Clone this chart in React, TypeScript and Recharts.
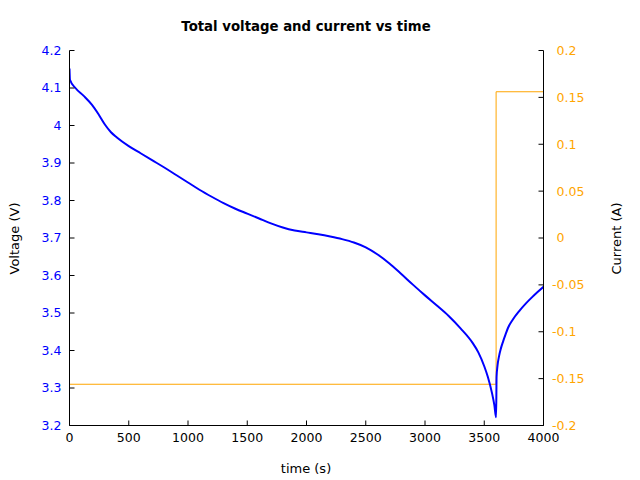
import React from 'react';
import { ComposedChart, Line, XAxis, YAxis } from 'recharts';

const timeV = [0, 4, 50, 120, 190, 245, 300, 350, 400, 500, 600, 700, 800, 900, 1000, 1100, 1200, 1300, 1400, 1500, 1600, 1700, 1800, 1900, 2000, 2100, 2200, 2300, 2400, 2500, 2600, 2700, 2800, 2900, 3000, 3100, 3200, 3300, 3400, 3450, 3500, 3530, 3565, 3585, 3600, 3604, 3612, 3625, 3640, 3660, 3680, 3700, 3740, 3800, 3850, 3900, 3950, 4000];
const voltage = [4.152, 4.122, 4.1, 4.079, 4.055, 4.03, 4.002, 3.982, 3.968, 3.945, 3.926, 3.907, 3.888, 3.868, 3.848, 3.828, 3.81, 3.793, 3.778, 3.765, 3.752, 3.739, 3.728, 3.72, 3.715, 3.71, 3.704, 3.697, 3.688, 3.675, 3.656, 3.632, 3.604, 3.575, 3.547, 3.52, 3.492, 3.459, 3.421, 3.395, 3.358, 3.33, 3.287, 3.255, 3.222, 3.33, 3.36, 3.385, 3.405, 3.425, 3.443, 3.46, 3.482, 3.507, 3.525, 3.541, 3.556, 3.57];

const timeI = [0, 3600, 3600, 4000];
const current = [-0.156, -0.156, 0.156, 0.156];

const xTicks = [0, 500, 1000, 1500, 2000, 2500, 3000, 3500, 4000];
const vTicks = [3.2, 3.3, 3.4, 3.5, 3.6, 3.7, 3.8, 3.9, 4, 4.1, 4.2];
const iTicks = [-0.2, -0.15, -0.1, -0.05, 0, 0.05, 0.1, 0.15, 0.2];

const title = 'Total voltage and current vs time';
const xLabel = 'time (s)';
const yLabel = 'Voltage (V)';
const y2Label = 'Current (A)';

const vData = timeV.map((t, k) => ({ t, v: voltage[k] }));
const iData = timeI.map((t, k) => ({ t, i: current[k] }));

const BLUE = '#0000ff';
const ORANGE = '#ffa500';
const FONT = 'DejaVu Sans';
const TICK_FS = 12.5;

const RightTick = (props: any) => {
  const { x, y, payload } = props;
  const val = payload.value as number;
  return (
    <text x={x - (val < 0 ? 4.5 : 0)} y={y} dy="0.355em" textAnchor="start" fill={ORANGE} fontSize={TICK_FS} fontFamily={FONT}>
      {String(val)}
    </text>
  );
};

const EmptyTick = () => <g />;

export default function App() {
  return (
    <div style={{ position: 'absolute', left: 0, top: 0, width: 640, height: 480, background: '#fff' }}>
      <ComposedChart
        width={640}
        height={480}
        margin={{ top: 50.5, right: 0, bottom: 24.5, left: 0.5 }}
        style={{ fontFamily: FONT }}
      >
        <XAxis
          xAxisId={0}
          dataKey="t"
          type="number"
          domain={[0, 4000]}
          ticks={xTicks}
          allowDataOverflow
          height={30}
          stroke="#000"
          tickSize={-5}
          tickMargin={13}
          tick={{ fill: '#000', fontSize: TICK_FS, fontFamily: FONT }}
        />
        <XAxis
          xAxisId="top"
          orientation="top"
          dataKey="t"
          type="number"
          domain={[0, 4000]}
          ticks={xTicks}
          allowDataOverflow
          height={0}
          stroke="#000"
          tickSize={-5}
          tick={EmptyTick}
        />
        <YAxis
          yAxisId="v"
          orientation="left"
          type="number"
          domain={[3.2, 4.2]}
          ticks={vTicks}
          allowDataOverflow
          width={69}
          stroke="#000"
          tickSize={-5}
          tickMargin={13}
          tick={{ fill: BLUE, fontSize: TICK_FS, fontFamily: FONT }}
        />
        <YAxis
          yAxisId="i"
          orientation="right"
          type="number"
          domain={[-0.2, 0.2]}
          ticks={iTicks}
          allowDataOverflow
          width={96.5}
          stroke="#000"
          tickSize={-5}
          tickMargin={18}
          tick={RightTick}
        />
        <Line
          data={iData}
          xAxisId={0}
          yAxisId="i"
          dataKey="i"
          type="linear"
          stroke={ORANGE}
          strokeWidth={1}
          dot={false}
          isAnimationActive={false}
        />
        <Line
          data={vData}
          xAxisId={0}
          yAxisId="v"
          dataKey="v"
          type="monotone"
          stroke={BLUE}
          strokeWidth={2}
          dot={false}
          isAnimationActive={false}
        />
      </ComposedChart>
      <svg width={640} height={480} style={{ position: 'absolute', left: 0, top: 0, pointerEvents: 'none' }}>
        <text x={306} y={31} textAnchor="middle" fontFamily={FONT} fontWeight="bold" fontSize={13.3} fill="#000">{title}</text>
        <text x={306} y={473} textAnchor="middle" fontFamily={FONT} fontSize={13} fill="#000">{xLabel}</text>
        <text transform="translate(19,238.5) rotate(-90)" textAnchor="middle" fontFamily={FONT} fontSize={13} fill="#000">{yLabel}</text>
        <text transform="translate(621,238.5) rotate(-90)" textAnchor="middle" fontFamily={FONT} fontSize={13} fill="#000">{y2Label}</text>
      </svg>
    </div>
  );
}
